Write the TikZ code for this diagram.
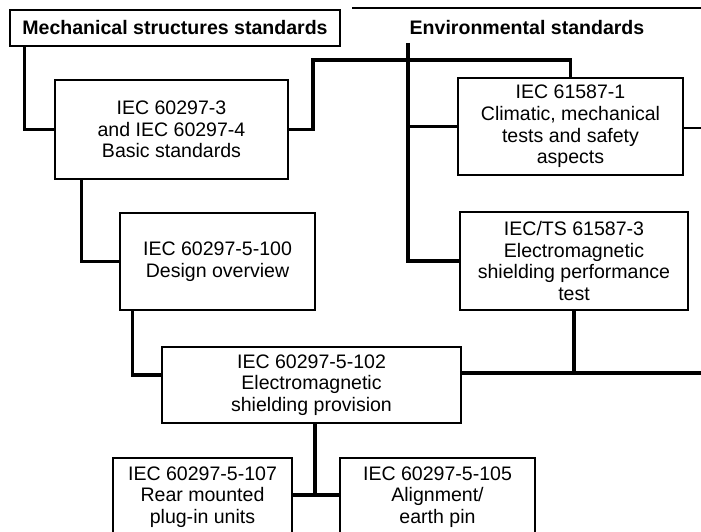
\documentclass[tikz,border=0pt]{standalone}
\usepackage{fontspec}
\setmainfont{Liberation Sans}
\usetikzlibrary{calc}

\tikzset{
  stdbox/.style={draw, line width=0.9pt, align=center, inner sep=0pt,
    font=\fontsize{13.9}{15.4}\selectfont},
  headbox/.style={stdbox, font=\fontsize{13.9}{15.4}\selectfont\bfseries},
  link/.style={line width=2.5pt},
  hairline/.style={line width=0.8pt}
}

\begin{document}
\begin{tikzpicture}[x=0.025cm, y=-0.025cm]
  \useasboundingbox (0,0) rectangle (701,531);

  % Draw the two headings
  \node[headbox, minimum width=8.25cm, minimum height=0.9cm] (mech) at (175,28) {Mechanical structures standards};
  \node[headbox, draw=none] (env) at (527,28) {Environmental standards};
  \coordinate (envleft) at (352,8);
  \coordinate (envright) at (701,8);
  \draw[hairline] (envleft) -- (envright);

    % Draw the standard boxes
  \node[stdbox, minimum width=5.825cm, minimum height=2.475cm] (basic) at (171.5,129.5)
    {IEC 60297-3\\and IEC 60297-4\\Basic standards};
  \node[stdbox, minimum width=5.625cm, minimum height=2.425cm] (climatic) at (570.5,126.5)
    {IEC 61587-1\\Climatic, mechanical\\tests and safety\\aspects};
  \node[stdbox, minimum width=5.7cm, minimum height=2.45cm] (shieldtest) at (574,261)
    {IEC/TS 61587-3\\Electromagnetic\\shielding performance\\test};
  \node[stdbox, minimum width=4.875cm, minimum height=2.425cm] (design) at (217.5,261.5)
    {IEC 60297-5-100\\Design overview};
  \node[stdbox, minimum width=7.475cm, minimum height=1.9cm] (shieldprov) at (311.5,385)
    {IEC 60297-5-102\\Electromagnetic\\shielding provision};
  \node[stdbox, minimum width=4.475cm, minimum height=1.95cm] (rear) at (202.5,497)
    {IEC 60297-5-107\\Rear mounted\\plug-in units};
  \node[stdbox, minimum width=4.875cm, minimum height=1.95cm] (align) at (437.5,497)
    {IEC 60297-5-105\\Alignment/\\earth pin};

  % Define the corner points of the connectors
  \coordinate (basicup) at (313,60);
  \coordinate (envtop) at (408,43);
  \coordinate (climright) at (701,128);
  \coordinate (provright) at (701,373);
  \coordinate (lowjoin) at (315,495);

  % Draw the connectors
  \draw[link] ([xshift=15*0.025cm]mech.south west) |- (basic.west);
  \draw[link] (basic.east) -| (basicup) -| (climatic.north);
  \draw[link] (envtop) |- (shieldtest.west);
  \draw[link] (envtop |- climatic.west) -- (climatic.west);
  \draw[link] ([xshift=27*0.025cm]basic.south west) |- (design.west);
  \draw[link] ([xshift=13*0.025cm]design.south west) |- ($(shieldprov.west)+(0,-10)$);
  \draw[link] (shieldprov.east |- provright) -- (provright);
  \draw[link] (shieldtest.south) -- (shieldtest.south |- provright);
  \draw[hairline] (climatic.east |- climright) -- (climright);
    \draw[link] (shieldprov.south -| lowjoin) -- (lowjoin);
    \draw[link] (rear.east |- lowjoin) -- (align.west |- lowjoin);
\end{tikzpicture}
\end{document}
